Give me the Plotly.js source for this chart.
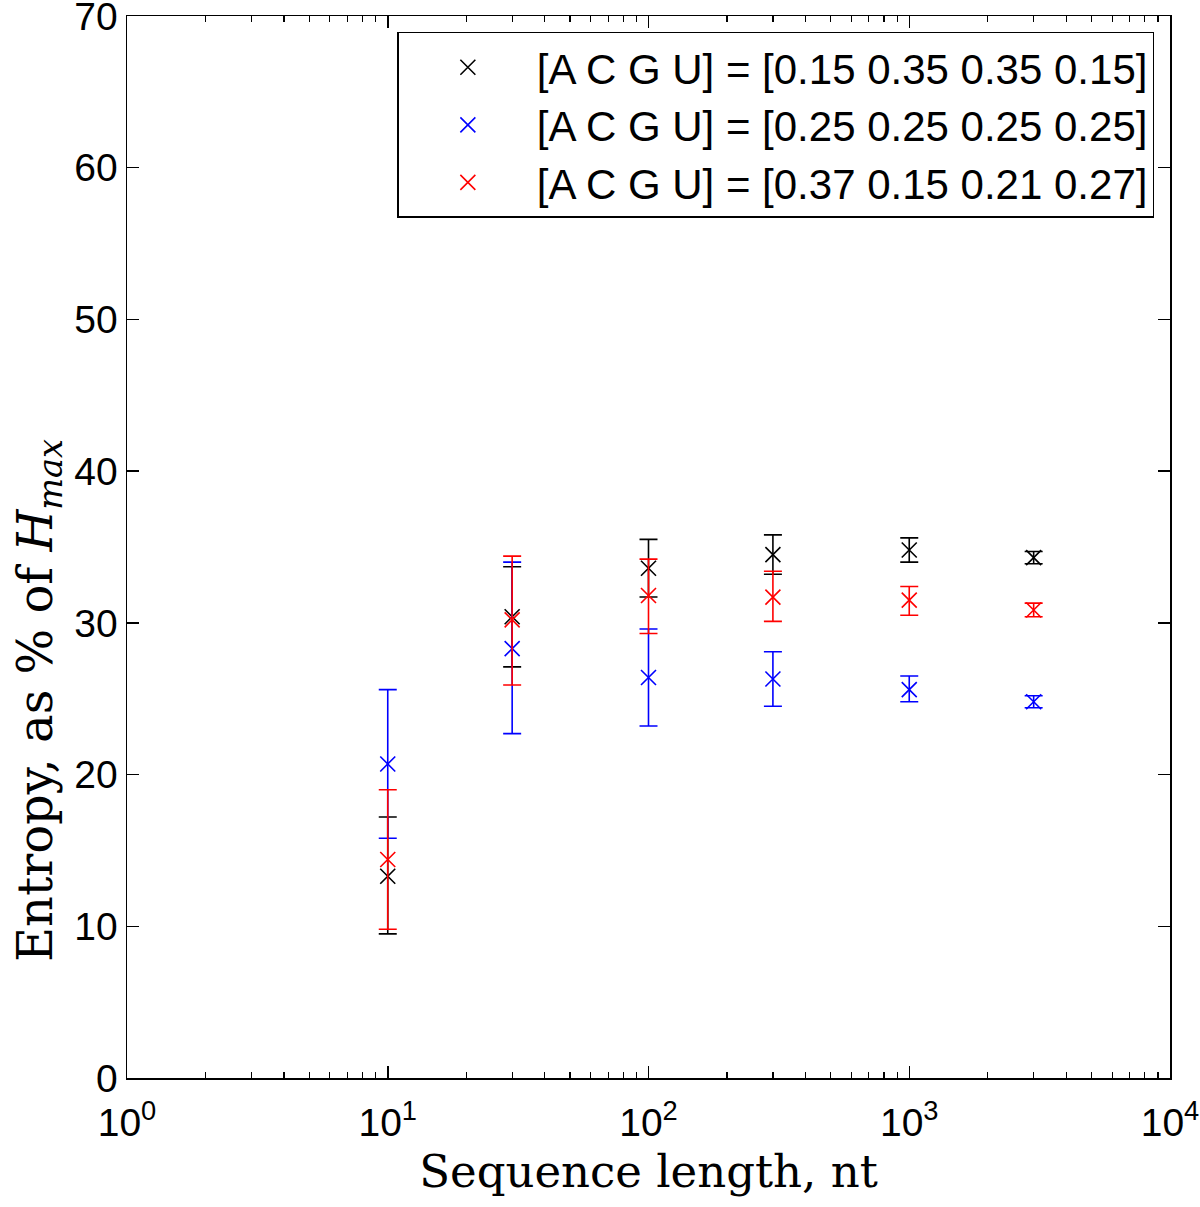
<!DOCTYPE html>
<html>
<head>
<meta charset="utf-8">
<script src="https://cdn.plot.ly/plotly-3.0.1.min.js"></script>
<style>html,body{margin:0;padding:0;background:#fff;}#chart{width:1200px;height:1207px;}</style>
</head>
<body>
<div id="chart"></div>
<script>
// Data
const lengths = [10, 30, 100, 300, 1000, 3000];
const seriesNames = [
  "[A C G U] = [0.15 0.35 0.35 0.15]",
  "[A C G U] = [0.25 0.25 0.25 0.25]",
  "[A C G U] = [0.37 0.15 0.21 0.27]"
];
const seriesColors = ["#000000", "#0000ff", "#ff0000"];
const meanBlack = [13.3, 30.4, 33.6, 34.5, 34.8, 34.3];
const errBlackUp = [3.9, 3.3, 1.9, 1.3, 0.8, 0.4];
const errBlackDown = [3.8, 3.3, 1.9, 1.3, 0.8, 0.4];
const meanBlue = [20.7, 28.3, 26.4, 26.3, 25.6, 24.8];
const errBlueUp = [4.9, 5.7, 3.2, 1.8, 0.9, 0.4];
const errBlueDown = [4.9, 5.6, 3.2, 1.8, 0.8, 0.4];
const meanRed = [14.4, 30.2, 31.8, 31.7, 31.5, 30.85];
const errRedUp = [4.6, 4.2, 2.4, 1.7, 0.9, 0.45];
const errRedDown = [4.6, 4.3, 2.5, 1.6, 1.0, 0.45];
const yTicks = [0, 10, 20, 30, 40, 50, 60, 70];
const xTickVals = [1, 10, 100, 1000, 10000];
const xTickText = ["10<sup>0</sup>", "10<sup>1</sup>", "10<sup>2</sup>", "10<sup>3</sup>", "10<sup>4</sup>"];
const xTitle = "Sequence length, nt";
const yTitle = "Entropy, as % of <i>H</i><sub><i>max</i></sub>";

const means = [meanBlack, meanBlue, meanRed];
const ups = [errBlackUp, errBlueUp, errRedUp];
const downs = [errBlackDown, errBlueDown, errRedDown];

const minorVals = [];
for (let d = 0; d < 4; d++) for (let k = 2; k <= 9; k++) minorVals.push(k * Math.pow(10, d));

const traces = means.map((m, i) => ({
  type: "scatter",
  mode: "markers",
  x: lengths,
  y: m,
  name: seriesNames[i],
  marker: {symbol: "x-thin-open", size: 15, color: seriesColors[i], line: {color: seriesColors[i], width: 1.6}},
  error_y: {type: "data", symmetric: false, array: ups[i], arrayminus: downs[i], color: seriesColors[i], thickness: 1.6, width: 9}
}));

const fontSans = "Liberation Sans, Arial, sans-serif";
const fontSerif = "DejaVu Serif, Liberation Serif, serif";

const layout = {
  width: 1200, height: 1207,
  margin: {l: 127, r: 30, t: 16, b: 129},
  paper_bgcolor: "#fff", plot_bgcolor: "#fff",
  showlegend: true,
  legend: {
    x: 0.985, xanchor: "right", y: 0.985, yanchor: "top",
    bordercolor: "#000", borderwidth: 1.5, bgcolor: "#fff",
    font: {family: fontSans, size: 42, color: "#000"},
    tracegroupgap: 0, itemwidth: 128
  },
  xaxis: {
    type: "log", range: [0, 4],
    tickmode: "array", tickvals: xTickVals, ticktext: xTickText,
    ticks: "inside", ticklen: 12, tickwidth: 1.5, tickcolor: "#000",
    minor: {tickmode: "array", tickvals: minorVals, ticks: "inside", ticklen: 6, tickwidth: 1.2, tickcolor: "#000", showgrid: false},
    showline: true, linecolor: "#000", linewidth: 1.5, mirror: "allticks",
    showgrid: false, zeroline: false, ticklabelstandoff: 10,
    tickfont: {family: fontSans, size: 39, color: "#000"},
    title: {text: xTitle, font: {family: fontSerif, size: 45, color: "#000"}, standoff: 12}
  },
  yaxis: {
    range: [0, 70], tickmode: "array", tickvals: yTicks,
    ticks: "inside", ticklen: 12, tickwidth: 1.5, tickcolor: "#000",
    showline: true, linecolor: "#000", linewidth: 1.5, mirror: "allticks",
    showgrid: false, zeroline: false, ticklabeloverflow: "allow",
    tickfont: {family: fontSans, size: 39, color: "#000"}
  },
  annotations: [{
    text: yTitle, xref: "paper", yref: "paper", x: 0, y: 0.355,
    xanchor: "center", yanchor: "middle", xshift: -88, textangle: -90,
    showarrow: false, font: {family: fontSerif, size: 48, color: "#000"}
  }]
};

Plotly.newPlot("chart", traces, layout, {displayModeBar: false, staticPlot: true});
</script>
</body>
</html>
